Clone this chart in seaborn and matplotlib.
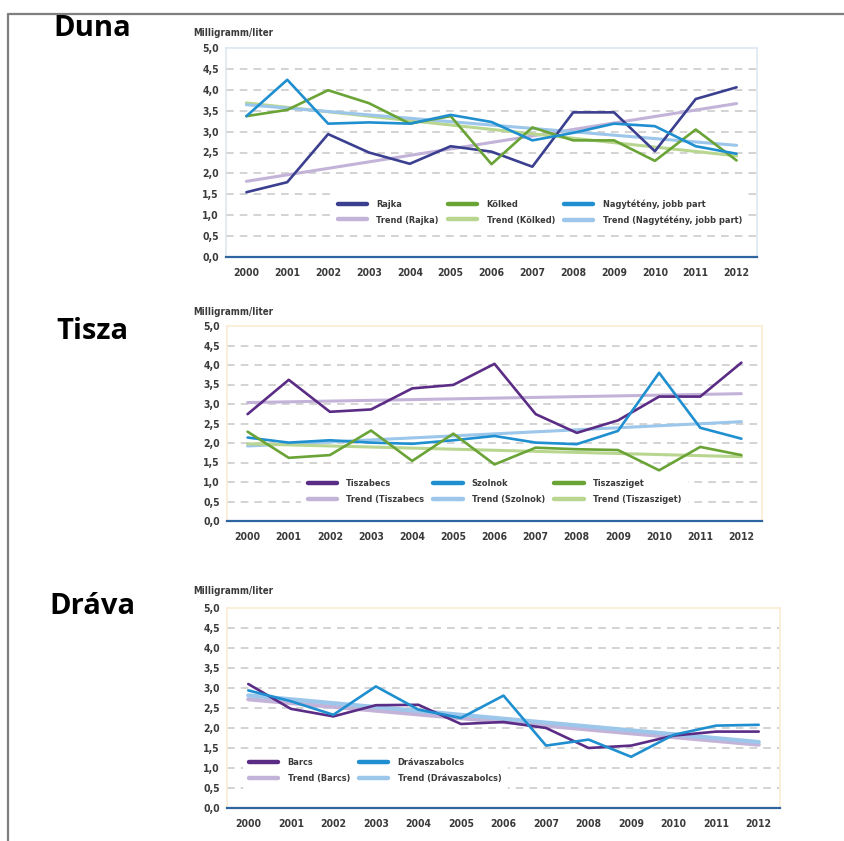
import matplotlib
matplotlib.use("Agg")
import matplotlib.pyplot as plt
from matplotlib.lines import Line2D
from matplotlib.ticker import FixedLocator, FuncFormatter
import seaborn as sns
import numpy as np

sns.set_theme(style="white")
plt.rcParams['font.family'] = ['DejaVu Sans']
plt.rcParams['font.stretch'] = 'condensed'

years = list(range(2000, 2013))

# Duna
rajka = [1.55, 1.79, 2.94, 2.50, 2.23, 2.65, 2.52, 2.16, 3.46, 3.46, 2.53, 3.78, 4.06]
kolked = [3.37, 3.52, 3.99, 3.68, 3.19, 3.37, 2.22, 3.10, 2.79, 2.79, 2.30, 3.05, 2.31]
nagytteny = [3.37, 4.24, 3.19, 3.22, 3.19, 3.40, 3.23, 2.79, 2.97, 3.19, 3.13, 2.65, 2.47]

# Tisza
tiszabecs = [2.74, 3.62, 2.80, 2.86, 3.40, 3.49, 4.03, 2.74, 2.26, 2.58, 3.19, 3.19, 4.06]
szolnok = [2.14, 2.01, 2.07, 2.01, 1.98, 2.07, 2.18, 2.01, 1.97, 2.31, 3.80, 2.39, 2.11]
tiszasziget = [2.29, 1.62, 1.69, 2.32, 1.54, 2.24, 1.45, 1.88, 1.84, 1.82, 1.30, 1.90, 1.69]

# Dráva
barcs = [3.10, 2.48, 2.29, 2.57, 2.58, 2.10, 2.15, 2.00, 1.50, 1.56, 1.81, 1.91, 1.91]
dravaszabolcs = [2.94, 2.67, 2.33, 3.04, 2.46, 2.25, 2.81, 1.56, 1.71, 1.28, 1.83, 2.06, 2.08]

panel_titles = ["Duna", "Tisza", "Dráva"]
unit_label = "Milligramm/liter"

W, H = 845, 841
fig = plt.figure(figsize=(W / 100, H / 100), dpi=100)

def rect(l, r, t, b):
    return [l / W, 1 - b / H, (r - l) / W, (b - t) / H]

PURPLE_D = "#3b3f8f"
PURPLE = "#5b2c86"
GREEN = "#6aa336"
BLUE = "#1f8fd0"
T_PURPLE = "#c4b3d8"
T_GREEN = "#b9d690"
T_BLUE = "#9cc6ea"

panels = [
    dict(rect=rect(226, 757, 48, 257), frame="#dde6f0",
         series=[("Rajka", rajka, PURPLE_D, T_PURPLE, "Trend (Rajka)"),
                 ("Kölked", kolked, GREEN, T_GREEN, "Trend (Kölked)"),
                 ("Nagytétény, jobb part", nagytteny, BLUE, T_BLUE, "Trend (Nagytétény, jobb part)")],
         ncol=3, anchor=(0.19, 0.10), title_y=28, unit_y=33, tlw=2.2),
    dict(rect=rect(227, 762, 326, 521), frame="#fbecd2",
         series=[("Tiszabecs", tiszabecs, PURPLE, T_PURPLE, "Trend (Tiszabecs"),
                 ("Szolnok", szolnok, BLUE, T_BLUE, "Trend (Szolnok)"),
                 ("Tiszasziget", tiszasziget, GREEN, T_GREEN, "Trend (Tiszasziget)")],
         ncol=3, anchor=(0.13, 0.03), title_y=332, unit_y=312, tlw=2.2),
    dict(rect=rect(227, 780, 608, 808), frame="#fbecd2",
         series=[("Barcs", barcs, PURPLE, T_PURPLE, "Trend (Barcs)"),
                 ("Drávaszabolcs", dravaszabolcs, BLUE, T_BLUE, "Trend (Drávaszabolcs)")],
         ncol=2, anchor=(0.02, 0.07), title_y=607, unit_y=591, tlw=3.0),
]

TXT = "#3a3a3a"

for title, p in zip(panel_titles, panels):
    ax = fig.add_axes(p["rect"])
    handles = []
    for name, vals, col, tcol, tname in p["series"]:
        sns.lineplot(x=years, y=vals, ax=ax, color=col, lw=1.9, label=name, zorder=3)
        ln = ax.get_lines()[-1]
        sns.regplot(x=np.array(years, dtype=float), y=np.array(vals), ax=ax, ci=None,
                    scatter=False, truncate=True, label=tname,
                    line_kws=dict(color=tcol, lw=p["tlw"], zorder=2))
        tl = ax.get_lines()[-1]
        handles += [ln, tl]
    ax.set_xlabel("")
    ax.set_ylabel("")
    ax.set_xlim(1999.5, 2012.5)
    ax.set_ylim(0, 5)
    ax.set_yticks(np.arange(0, 5.01, 0.5))
    ax.yaxis.set_major_formatter(FuncFormatter(lambda v, pos: f"{v:.1f}".replace(".", ",")))
    ax.set_xticks(years)
    ax.set_xticklabels([str(y) for y in years])
    ax.xaxis.set_minor_locator(FixedLocator(np.arange(1999.5, 2013.0, 1.0)))
    ax.tick_params(axis="x", which="major", length=0, pad=8, labelsize=7.5, labelcolor=TXT)
    ax.tick_params(axis="x", which="minor", length=9, width=1.5, color="#2e64a0", direction="out")
    ax.tick_params(axis="y", length=0, pad=5, labelsize=7.5, labelcolor=TXT)
    for lab in ax.get_xticklabels() + ax.get_yticklabels():
        lab.set_fontweight("bold")
    ax.grid(False)
    for yv in np.arange(0.5, 4.51, 0.5):
        ax.axhline(yv, color="#c8c8c8", lw=1.1, ls=(0, (5, 4)), zorder=1)
    for s in ["top", "right", "left"]:
        ax.spines[s].set_color(p["frame"])
        ax.spines[s].set_linewidth(1.2)
    ax.spines["bottom"].set_color("#2e64a0")
    ax.spines["bottom"].set_linewidth(1.6)
    leg = ax.legend(handles=handles, labels=[h.get_label() for h in handles],
                    ncol=p["ncol"], loc="lower left", bbox_to_anchor=p["anchor"],
                    frameon=True, facecolor="white", edgecolor="none", framealpha=1,
                    fontsize=6.6, handlelength=3.2, columnspacing=1.0, labelspacing=0.75,
                    borderpad=0.7, handletextpad=1.0)
    leg.set_zorder(5)
    for t in leg.get_texts():
        t.set_color(TXT)
        t.set_fontweight("bold")
    for h in leg.legend_handles:
        h.set_linewidth(3.2)
    fig.text(92 / W, 1 - p["title_y"] / H, title, ha="center", va="center",
             fontsize=21, fontweight="bold", family=["Open Sans", "DejaVu Sans"],
             stretch="normal", color="black")
    fig.text(193 / W, 1 - p["unit_y"] / H, unit_label, ha="left", va="center",
             fontsize=7, color=TXT, fontweight="bold")

fig.add_artist(Line2D([8 / W, 1], [1 - 14 / H, 1 - 14 / H], transform=fig.transFigure,
                      color="#7f7f7f", lw=1.6))
fig.add_artist(Line2D([8 / W, 8 / W], [1 - 14 / H, 0], transform=fig.transFigure,
                      color="#7f7f7f", lw=1.6))

fig.savefig("out.png", dpi=100, facecolor="white")
